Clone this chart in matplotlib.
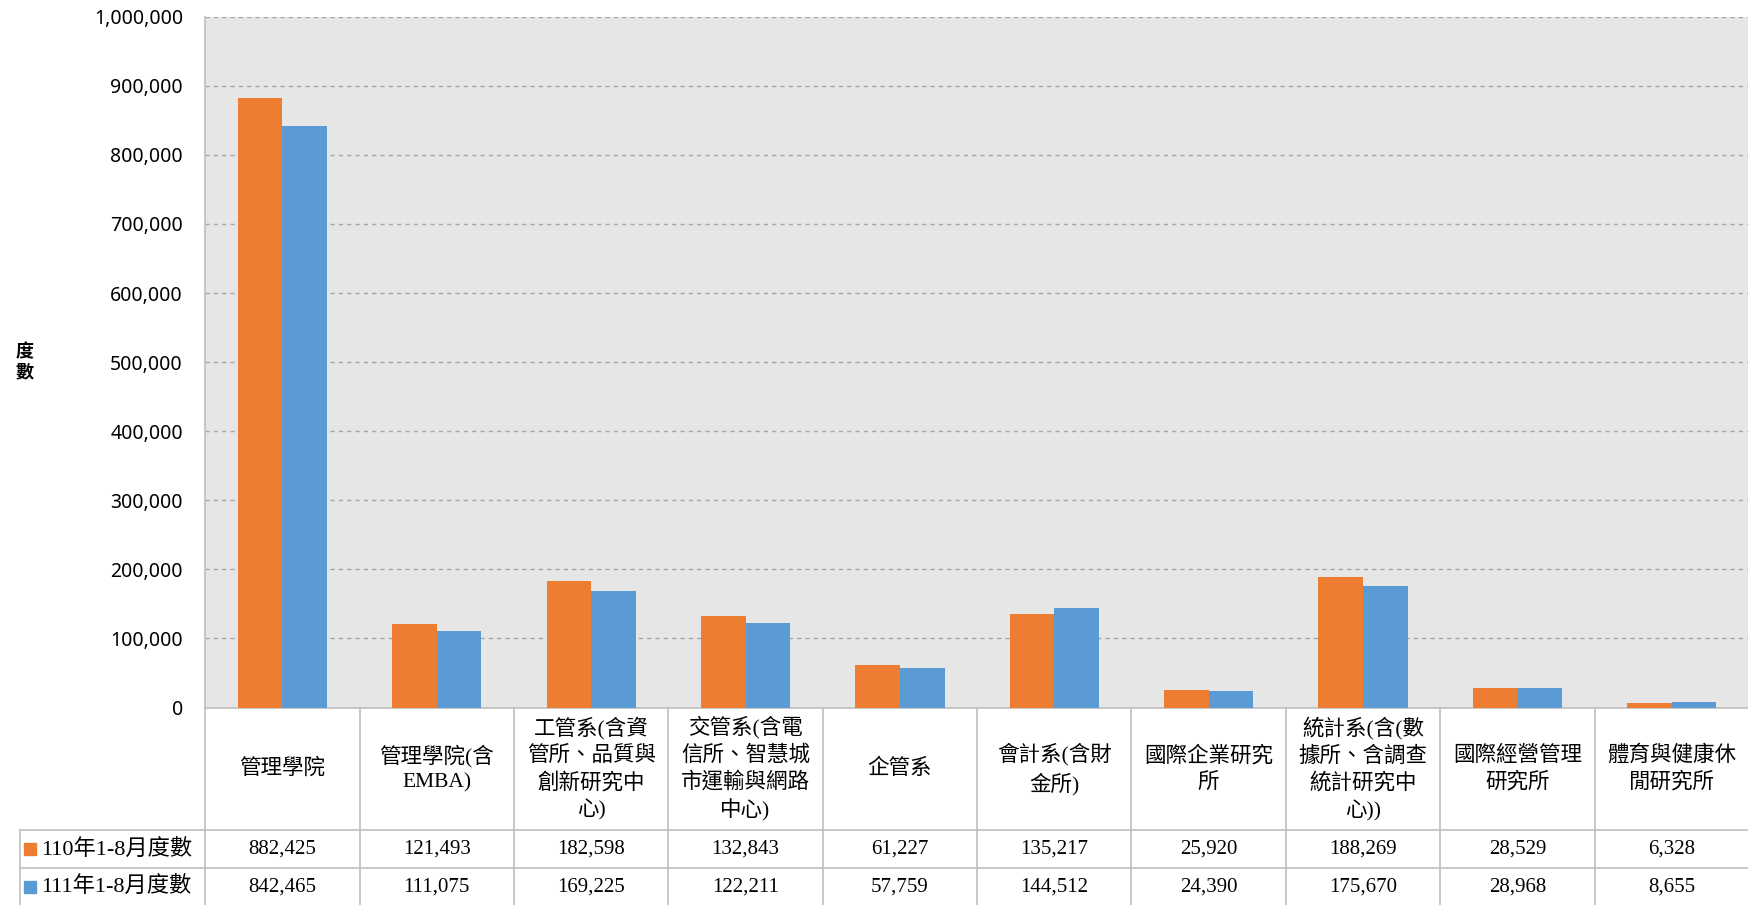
import matplotlib
matplotlib.use("Agg")
from matplotlib import pyplot as plt
from matplotlib import transforms

categories = [
    "管理學院",
    "管理學院(含\nEMBA)",
    "工管系(含資\n管所、品質與\n創新研究中\n心)",
    "交管系(含電\n信所、智慧城\n市運輸與網路\n中心)",
    "企管系",
    "會計系(含財\n金所)",
    "國際企業研究\n所",
    "統計系(含(數\n據所、含調查\n統計研究中\n心))",
    "國際經營管理\n研究所",
    "體育與健康休\n閒研究所",
]
series_names = ["110年1-8月度數", "111年1-8月度數"]
values_110 = [882425, 121493, 182598, 132843, 61227, 135217, 25920, 188269, 28529, 6328]
values_111 = [842465, 111075, 169225, 122211, 57759, 144512, 24390, 175670, 28968, 8655]
y_ticks = list(range(0, 1000001, 100000))

colors = ["#ED7D31", "#5B9BD5"]
border = "#BFBFBF"
serif = ["Liberation Serif", "Noto Sans CJK TC"]

fig = plt.figure(figsize=(17.49, 9.05), dpi=100)
ax = fig.add_axes([0.1173, 0.2182, 0.8827, 0.7633])
ax.set_facecolor("#E7E6E6")

n = len(categories)
x = list(range(n))
w = 0.289
ax.bar([i - w / 2 for i in x], values_110, width=w, color=colors[0], zorder=3)
ax.bar([i + w / 2 for i in x], values_111, width=w, color=colors[1], zorder=3)

ax.set_xlim(-0.5, n - 0.5)
ax.set_ylim(0, 1000000)
ax.set_yticks(y_ticks)
ax.set_yticklabels([f"{v:,}" for v in y_ticks], fontsize=14, family="Noto Sans")
ax.tick_params(axis="y", length=0, pad=16)
ax.set_xticks([])
ax.yaxis.grid(True, color="#A6A6A6", linestyle=(0, (3, 3)), linewidth=1.0, zorder=0)
for s in ["top", "right"]:
    ax.spines[s].set_visible(False)
ax.spines["left"].set_color(border)
ax.spines["bottom"].set_color(border)
ax.spines["left"].set_linewidth(1.2)
ax.spines["bottom"].set_linewidth(1.2)

fig.text(0.014, 0.6, "度\n數", fontsize=13, fontweight="bold", family="Noto Sans CJK TC",
         ha="center", va="center", linespacing=1.1)

# data table below the plot
tr = transforms.blended_transform_factory(ax.transData, ax.transAxes)
h_head = 0.1777
h_row = 0.0545
y1 = -h_head
y2 = y1 - h_row
y3 = y2 - h_row
left_edge = -1.699
line_kw = dict(color=border, linewidth=1.2, transform=tr, clip_on=False)

for b in [i - 0.5 for i in range(n + 1)]:
    ax.plot([b, b], [0, y3], **line_kw)
ax.plot([left_edge, left_edge], [y1, y3], **line_kw)
for yy in [y1, y2, y3]:
    ax.plot([left_edge, n - 0.5], [yy, yy], **line_kw)

for i, label in enumerate(categories):
    ax.text(i, y1 / 2, label, transform=tr, ha="center", va="center", fontsize=15.5,
            family=serif, linespacing=1.4, clip_on=False)
    ax.text(i, (y1 + y2) / 2, f"{values_110[i]:,}", transform=tr, ha="center",
            va="center", fontsize=15, family=serif)
    ax.text(i, (y2 + y3) / 2, f"{values_111[i]:,}", transform=tr, ha="center",
            va="center", fontsize=15, family=serif)

for k, (name, yc) in enumerate(zip(series_names, [(y1 + y2) / 2, (y2 + y3) / 2])):
    ax.plot([-1.634], [yc], marker="s", markersize=8, color=colors[k], linestyle="none",
            transform=tr, clip_on=False)
    ax.text(-1.56, yc, name, transform=tr, ha="left", va="center", fontsize=16, family=serif)

fig.savefig("out.png", dpi=100)
